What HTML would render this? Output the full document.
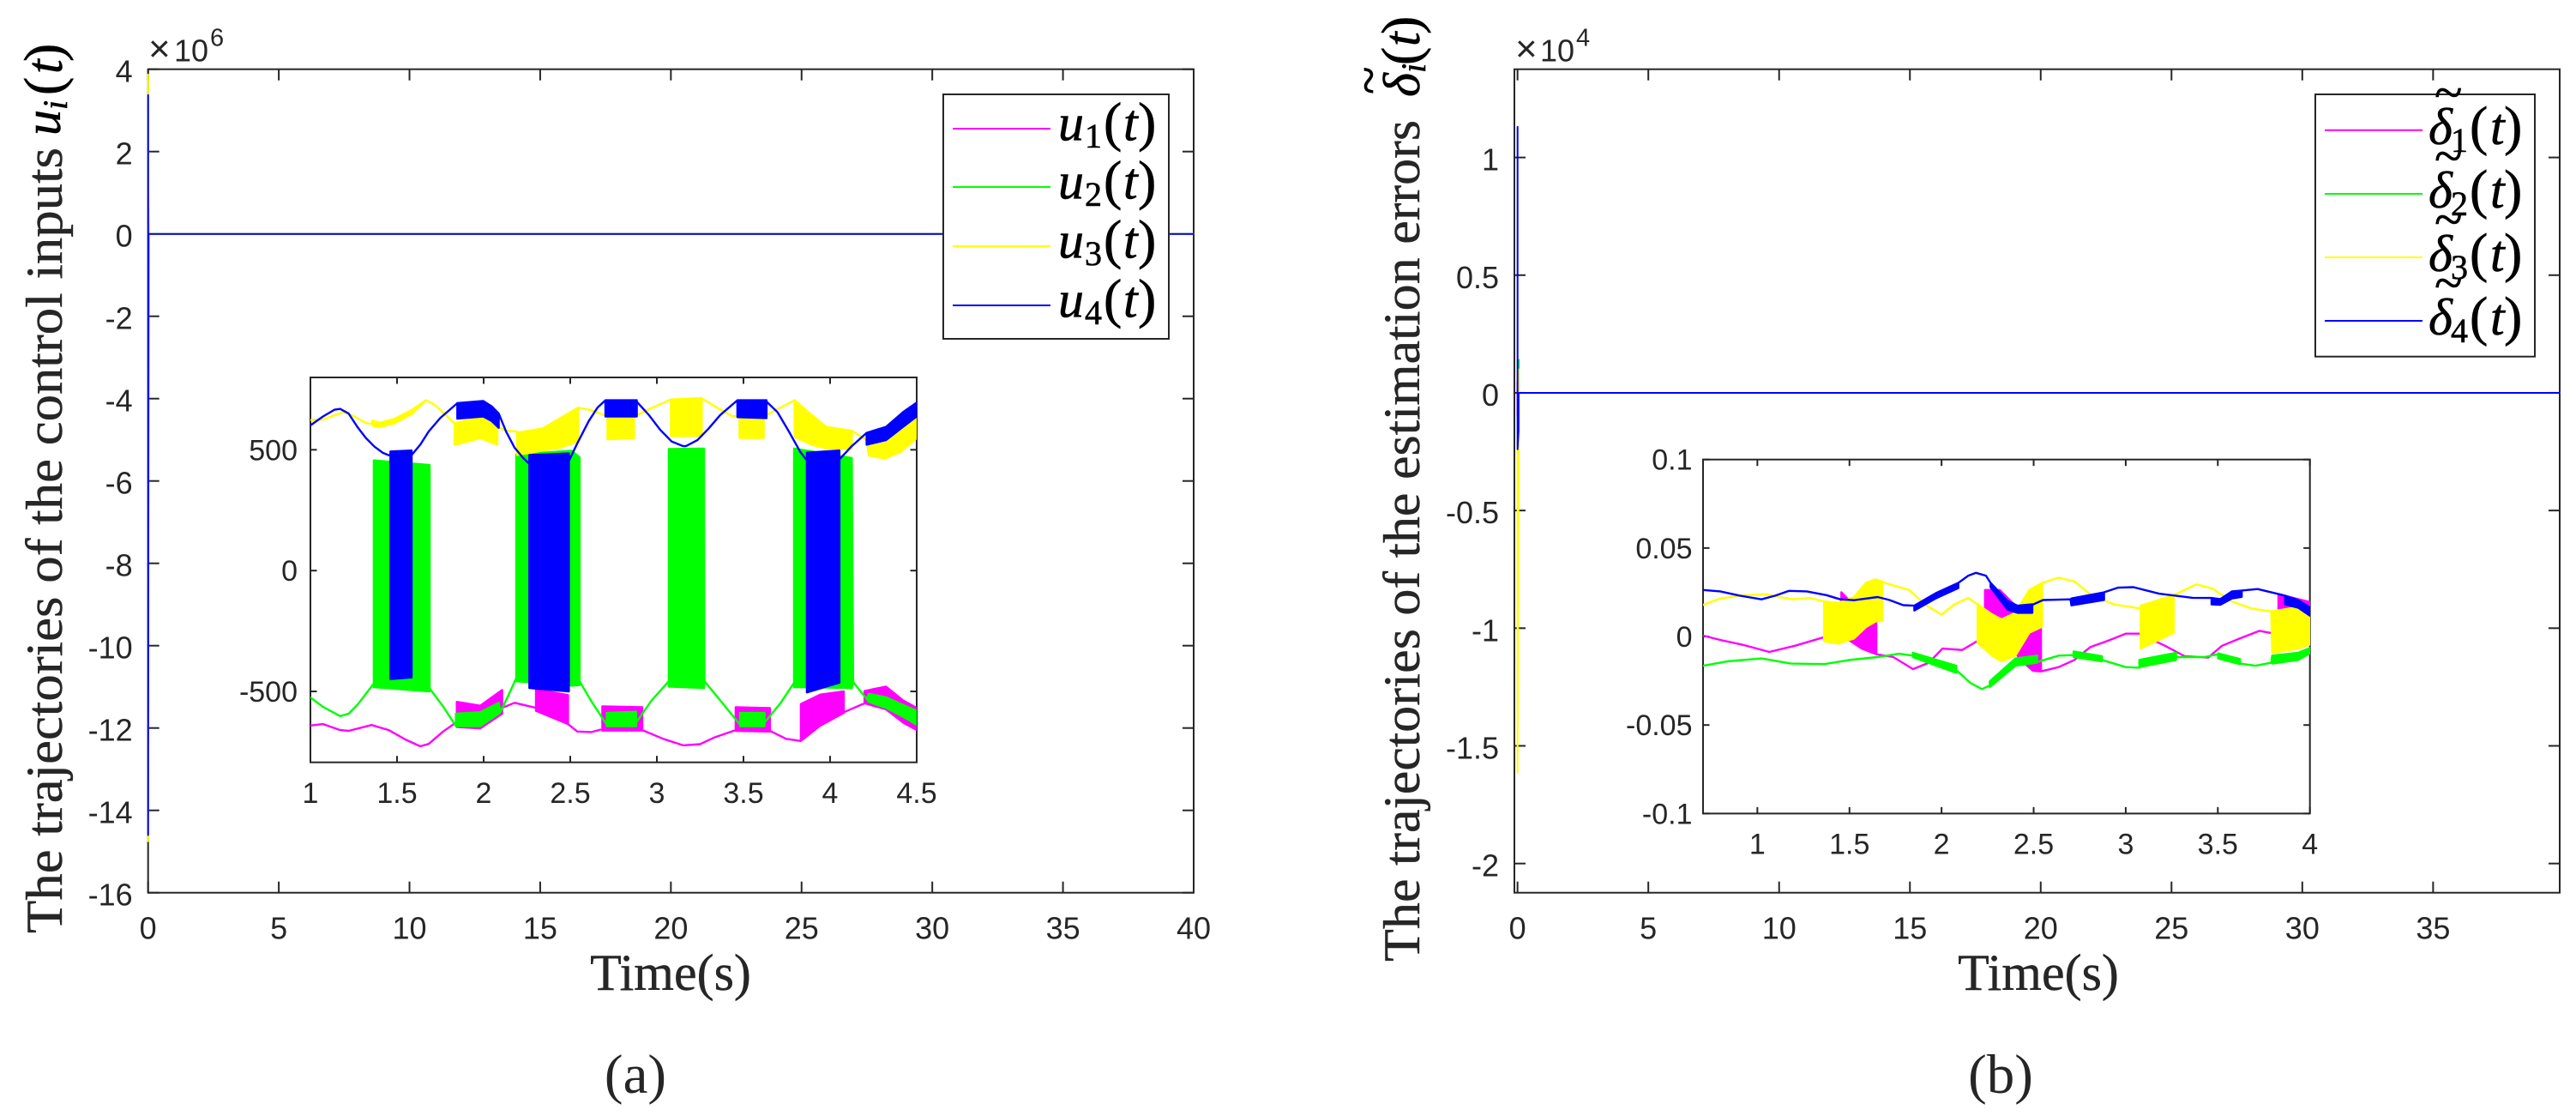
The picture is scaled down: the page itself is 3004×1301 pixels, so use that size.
<!DOCTYPE html>
<html lang="en">
<head>
<meta charset="utf-8">
<title>Control input and estimation error trajectories</title>
<style>
html,body{margin:0;padding:0;background:#fff;}
svg{display:block;}
text{font-family:"Liberation Sans",sans-serif;fill:#262626;}
.serif{font-family:"Liberation Serif",serif;}
.title{font-family:"Liberation Serif",serif;font-size:60px;fill:#262626;stroke:#262626;stroke-width:0.4px;}
.math{font-family:"Liberation Serif",serif;font-size:60px;fill:#000;stroke:#000;stroke-width:0.6px;}
.mi{font-style:italic;}
.sub{font-size:40px;}
.paren{font-size:64px;}
</style>
</head>
<body>
<svg id="chart" xmlns="http://www.w3.org/2000/svg" width="3004" height="1301" viewBox="0 0 3004 1301">
<rect x="0" y="0" width="3004" height="1301" fill="#fff"/>
<defs>
<clipPath id="clip-inset-a"><rect x="362" y="440" width="707" height="448.7"/></clipPath>
<clipPath id="clip-inset-b"><rect x="1986" y="535.7" width="708" height="413"/></clipPath>
</defs>
<g id="panel-a"></g>
<g id="panel-b"></g>

<g>
<g>
<text x="173" y="71.7" font-size="44">×</text>
<text x="203" y="71.7" font-size="36">10</text>
<text x="245" y="53.3" font-size="29">6</text>
</g>
<text class="title" x="782" y="1154" text-anchor="middle">Time(s)</text>
<g transform="translate(72,1088) rotate(-90)">
<text class="title" x="0" y="0" textLength="916" lengthAdjust="spacingAndGlyphs">The trajectories of the control inputs</text>
<text class="math mi" x="930" y="-2" fill="#000">u</text>
<text class="math mi sub" x="960" y="6">i</text>
<text class="math paren" x="977" y="0">(</text>
<text class="math mi" x="1002" y="0">t</text>
<text class="math paren" x="1016" y="0">)</text>
</g>
<text class="serif" x="741" y="1274" font-size="65" text-anchor="middle">(a)</text>
<g>
<rect x="1100" y="110" width="263" height="285" fill="#fff" stroke="#262626" stroke-width="2"/>
<g><line x1="1111" x2="1225" y1="150" y2="150" stroke="#ff00ff" stroke-width="2"/><text class="math mi" x="1234" y="163.5">u</text><text class="math sub" x="1265" y="172">1</text><text class="math paren" x="1287" y="163.5">(</text><text class="math mi" x="1310" y="163.5">t</text><text class="math paren" x="1327" y="163.5">)</text></g>
<g><line x1="1111" x2="1225" y1="218" y2="218" stroke="#00ff00" stroke-width="2"/><text class="math mi" x="1234" y="231.5">u</text><text class="math sub" x="1265" y="240">2</text><text class="math paren" x="1287" y="231.5">(</text><text class="math mi" x="1310" y="231.5">t</text><text class="math paren" x="1327" y="231.5">)</text></g>
<g><line x1="1111" x2="1225" y1="287" y2="287" stroke="#ffff00" stroke-width="2"/><text class="math mi" x="1234" y="300.5">u</text><text class="math sub" x="1265" y="309">3</text><text class="math paren" x="1287" y="300.5">(</text><text class="math mi" x="1310" y="300.5">t</text><text class="math paren" x="1327" y="300.5">)</text></g>
<g><line x1="1111" x2="1225" y1="356" y2="356" stroke="#0000ff" stroke-width="2"/><text class="math mi" x="1234" y="369.5">u</text><text class="math sub" x="1265" y="378">4</text><text class="math paren" x="1287" y="369.5">(</text><text class="math mi" x="1310" y="369.5">t</text><text class="math paren" x="1327" y="369.5">)</text></g>
</g>
</g>

<g>
<g>
<text x="1767" y="71.7" font-size="44">×</text>
<text x="1796" y="71.7" font-size="36">10</text>
<text x="1838" y="53.3" font-size="29">4</text>
</g>
<text class="title" x="2377" y="1154" text-anchor="middle">Time(s)</text>
<g transform="translate(1655,1121) rotate(-90)">
<text class="title" x="0" y="0" textLength="981" lengthAdjust="spacingAndGlyphs">The trajectories of the estimation errors</text>
<text class="math mi" x="1008" y="0">δ</text>
<text class="math" x="1011" y="-39" font-size="38">~</text>
<text class="math mi sub" x="1036" y="7">i</text>
<text class="math paren" x="1045" y="0">(</text>
<text class="math mi" x="1067" y="0">t</text>
<text class="math paren" x="1081" y="0">)</text>
</g>
<text class="serif" x="2333" y="1274" font-size="65" text-anchor="middle">(b)</text>
<g>
<rect x="2700" y="110" width="256" height="305.7" fill="#fff" stroke="#262626" stroke-width="2"/>
<g><line x1="2711" x2="2825" y1="151.7" y2="151.7" stroke="#ff00ff" stroke-width="2"/><text class="math mi" x="2832" y="168">δ</text><text class="math" x="2839" y="128" font-size="38">~</text><text class="math sub" x="2858" y="177">1</text><text class="math paren" x="2880" y="168">(</text><text class="math mi" x="2904" y="168">t</text><text class="math paren" x="2920" y="168">)</text></g>
<g><line x1="2711" x2="2825" y1="226" y2="226" stroke="#00ff00" stroke-width="2"/><text class="math mi" x="2832" y="242">δ</text><text class="math" x="2839" y="202" font-size="38">~</text><text class="math sub" x="2858" y="251">2</text><text class="math paren" x="2880" y="242">(</text><text class="math mi" x="2904" y="242">t</text><text class="math paren" x="2920" y="242">)</text></g>
<g><line x1="2711" x2="2825" y1="300" y2="300" stroke="#ffff00" stroke-width="2"/><text class="math mi" x="2832" y="316">δ</text><text class="math" x="2839" y="276" font-size="38">~</text><text class="math sub" x="2858" y="325">3</text><text class="math paren" x="2880" y="316">(</text><text class="math mi" x="2904" y="316">t</text><text class="math paren" x="2920" y="316">)</text></g>
<g><line x1="2711" x2="2825" y1="374" y2="374" stroke="#0000ff" stroke-width="2"/><text class="math mi" x="2832" y="390">δ</text><text class="math" x="2839" y="350" font-size="38">~</text><text class="math sub" x="2858" y="399">4</text><text class="math paren" x="2880" y="390">(</text><text class="math mi" x="2904" y="390">t</text><text class="math paren" x="2920" y="390">)</text></g>
</g>
</g>
</svg>

<script>
// Tick values
const mainAXTicks = [0,5,10,15,20,25,30,35,40];
const mainAYTicks = [4,2,0,-2,-4,-6,-8,-10,-12,-14,-16];
const mainBXTicks = [0,5,10,15,20,25,30,35];
const mainBYTicks = [1,0.5,0,-0.5,-1,-1.5,-2];
const insetAXTicks = [1,1.5,2,2.5,3,3.5,4,4.5];
const insetAYTicks = [500,0,-500];
const insetBXTicks = [1,1.5,2,2.5,3,3.5,4];
const insetBYTicks = [0.1,0.05,0,-0.05,-0.1];

// Main series: rows are [time, value] (y in units of 1e6 for a, 1e4 for b)
const mainU1 = [[0,-5],[0,2],[0.02,0],[40,0]];
const mainU2 = [[0,3],[0,-6],[0.02,0],[40,0]];
const mainU3 = [[0,3.87],[0,-14.75],[0.02,0],[40,0]];
const mainU4 = [[0,3.37],[0,-14.6],[0.02,0],[40,0]];
const mainD1 = [[0,0.05],[0,-0.1],[0.05,0],[39.84,0]];
const mainD2 = [[0.05,0.14],[0.05,0],[39.84,0]];
const mainD3 = [[0,-0.24],[0,-1.615],[0.05,0.1],[0.05,0],[39.84,0]];
const mainD4 = [[0,1.13],[0,-0.24],[0.04,-0.16],[0.04,0],[39.84,0]];

// Inset series: rows are [time, value] on smooth stretches, [time, high, low] on chattering bands
const insetU1 = [[1,-641],[1.073,-635],[1.172,-660],[1.221,-663],[1.353,-639],[1.452,-660],[1.551,-700],[1.634,-727],[1.683,-717],[1.766,-666],[1.84,-629],[1.845,-629],[1.845,-543,-647],[1.98,-559,-653],[2.107,-494,-592],[2.107,-568],[2.178,-547],[2.302,-568],[2.302,-491,-580],[2.487,-515,-635],[2.487,-635],[2.541,-666],[2.624,-668],[2.685,-656],[2.685,-562,-662],[2.916,-565,-662],[2.916,-660],[3.036,-696],[3.152,-723],[3.25,-718],[3.333,-690],[3.455,-660],[3.455,-565,-663],[3.653,-569,-666],[3.653,-663],[3.746,-696],[3.831,-705],[3.831,-552,-705],[3.944,-513,-641],[4.079,-500,-589],[4.079,-586],[4.199,-549],[4.199,-498,-549],[4.323,-480,-574],[4.422,-537,-629],[4.5,-568,-660]];
const insetU2 = [[1,-525],[1.073,-564],[1.172,-602],[1.221,-592],[1.271,-556],[1.366,-467],[1.366,456,-482],[1.688,437,-500],[1.688,-488],[1.766,-562],[1.84,-644],[1.84,-592,-644],[1.98,-586,-644],[2.087,-547,-592],[2.096,-586],[2.145,-513],[2.188,-445],[2.188,481,-458],[2.508,496,-476],[2.554,469,-474],[2.554,-458],[2.624,-543],[2.711,-638],[2.711,-589,-644],[2.88,-584,-644],[2.88,-629],[2.97,-537],[3.069,-458],[3.069,503,-480],[3.272,505,-486],[3.275,-458],[3.366,-537],[3.48,-638],[3.48,-589,-644],[3.622,-589,-644],[3.622,-629],[3.713,-549],[3.792,-464],[3.792,505,-482],[4.125,466,-486],[4.133,-461],[4.211,-531],[4.224,-510,-543],[4.323,-524,-568],[4.422,-556,-605],[4.5,-580,-638]];
const insetU3 = [[1,623],[1.073,625],[1.188,656],[1.254,638],[1.32,611],[1.358,606],[1.358,621,600],[1.403,612,594],[1.485,628,610],[1.584,664,648],[1.667,705],[1.716,687],[1.782,644],[1.832,609],[1.832,609,521],[1.98,635,548],[2.079,595,521],[2.079,595],[2.129,579],[2.193,576],[2.193,570,478],[2.343,589,497],[2.442,631,509],[2.545,674,534],[2.545,674],[2.624,664],[2.715,638],[2.715,638,543],[2.868,638,548],[2.868,638],[2.954,668],[3.081,708],[3.081,708,556],[3.259,714,558],[3.259,714],[3.333,680],[3.432,640],[3.477,638],[3.477,638,549],[3.617,638,549],[3.617,638],[3.713,674],[3.795,705],[3.795,705,553],[3.894,644,521],[3.977,595,505],[4.125,579,505],[4.125,579],[4.211,540],[4.224,527,476],[4.315,527,464],[4.406,576,491],[4.5,631,548]];
const insetU4 = [[1,601],[1.073,638],[1.139,666],[1.172,669],[1.221,650],[1.271,595],[1.32,549],[1.37,513],[1.419,487],[1.462,475],[1.462,493,-449],[1.584,497,-442],[1.584,478],[1.634,521],[1.683,576],[1.749,631],[1.848,693],[1.848,693,629],[1.997,702,638],[2.046,680,619],[2.087,650,591],[2.087,650],[2.129,576],[2.178,509],[2.228,466],[2.264,442],[2.264,478,-486],[2.492,485,-500],[2.492,454],[2.541,527],[2.607,619],[2.657,674],[2.703,705],[2.703,705,638],[2.884,705,638],[2.884,699],[2.954,644],[3.02,582],[3.086,534],[3.152,515],[3.168,515],[3.234,540],[3.3,589],[3.366,644],[3.465,705],[3.465,705,635],[3.633,705,631],[3.633,699],[3.696,656],[3.762,576],[3.828,491],[3.866,456],[3.866,488,-504],[4.054,497,-464],[4.054,460],[4.125,515],[4.211,570],[4.211,570,521],[4.323,595,540],[4.422,656,595],[4.5,695,638]];

const insetD1 = [[0.706,0.0005],[0.798,-0.0019],[0.926,-0.0048],[1.065,-0.0087],[1.204,-0.0052],[1.364,-0.0003],[1.456,0.0005],[1.456,0.025,-0.0011],[1.503,0.02,-0.0024],[1.567,0.02,-0.0068],[1.646,0.02,-0.01],[1.646,-0.01],[1.738,-0.0116],[1.845,-0.0184],[1.931,-0.0148],[2.005,-0.0068],[2.112,-0.0076],[2.192,-0.0027],[2.236,-0.0027],[2.236,0.0263,-0.006],[2.316,0.0263,-0.0124],[2.401,0.0174,-0.0092],[2.412,0.0166,-0.0108],[2.455,0.01,-0.0156],[2.497,0.0037,-0.0194],[2.54,0.0053,-0.0197],[2.54,-0.0197],[2.636,-0.0173],[2.722,-0.0132],[2.807,-0.006],[2.903,-0.0024],[3,0.0016],[3.074,0.0016],[3.213,-0.0052],[3.32,-0.0111],[3.448,-0.0119],[3.523,-0.0052],[3.62,-0.0011],[3.726,0.0032],[3.797,0.0018],[3.829,0.0018],[3.829,0.0239,-0.006],[4,0.0195,0]];
const insetD2 = [[0.706,-0.0165],[0.84,-0.014],[1.022,-0.0124],[1.183,-0.0153],[1.364,-0.0156],[1.503,-0.0132],[1.653,-0.0116],[1.77,-0.0097],[1.845,-0.0108],[1.845,-0.0092,-0.0116],[1.973,-0.0132,-0.0165],[2.08,-0.0165,-0.0205],[2.08,-0.0189],[2.155,-0.0261],[2.219,-0.0297],[2.262,-0.0277],[2.262,-0.0253,-0.0285],[2.401,-0.0124,-0.0165],[2.519,-0.0108,-0.0148],[2.519,-0.0144],[2.636,-0.0108],[2.717,-0.0105],[2.717,-0.0084,-0.0116],[2.871,-0.0111,-0.014],[2.871,-0.0132],[3,-0.0173],[3.074,-0.0176],[3.074,-0.0132,-0.0173],[3.273,-0.0092,-0.0132],[3.273,-0.0116],[3.427,-0.0116],[3.502,-0.01],[3.502,-0.0095,-0.0124],[3.62,-0.0127,-0.0156],[3.62,-0.0153],[3.705,-0.0165],[3.79,-0.0148],[3.795,-0.0108,-0.0153],[3.936,-0.0092,-0.0132],[4,-0.0065,-0.0095]];
const insetD3 = [[0.706,0.0179],[0.798,0.0215],[0.905,0.0231],[1.044,0.0239],[1.118,0.0223],[1.193,0.021],[1.289,0.0218],[1.362,0.0198],[1.362,0.0198,-0.0027],[1.439,0.0189,-0.004],[1.525,0.0223,-0.0011],[1.589,0.0303,0.0053],[1.642,0.0323,0.0085],[1.678,0.0311,0.0089],[1.678,0.0308],[1.824,0.0263],[1.909,0.0182],[1.999,0.0124],[2.07,0.0182],[2.145,0.0218],[2.196,0.0182],[2.196,0.0182,-0.0035],[2.273,0.0126,-0.0108],[2.326,0.0097,-0.014],[2.401,0.0134,-0.0108],[2.476,0.0263,0.0021],[2.546,0.0303,0.0056],[2.546,0.0303],[2.636,0.0332],[2.722,0.0311],[2.807,0.0239],[2.935,0.0182],[3.081,0.0158],[3.081,0.0174,-0.0068],[3.26,0.0234,0.0021],[3.26,0.0234],[3.384,0.0295],[3.47,0.0271],[3.577,0.0198],[3.684,0.0158],[3.79,0.0142],[3.795,0.0142,-0.0092],[3.936,0.0166,-0.0068],[4,0.013,-0.0045]];
const insetD4 = [[0.706,0.0263],[0.798,0.0255],[0.905,0.0231],[1.022,0.021],[1.097,0.0231],[1.172,0.0258],[1.268,0.0255],[1.375,0.0234],[1.45,0.021],[1.525,0.0205],[1.653,0.0223],[1.717,0.0206],[1.792,0.0177],[1.852,0.0174],[1.852,0.0174,0.0147],[1.973,0.0247,0.0218],[2.091,0.0303,0.0274],[2.091,0.0303],[2.145,0.0344],[2.187,0.036],[2.241,0.0344],[2.266,0.0303],[2.266,0.0303,0.0279],[2.358,0.0202,0.0153],[2.412,0.0174,0.0134],[2.493,0.0182,0.0134],[2.493,0.0179],[2.551,0.0206],[2.7,0.021],[2.705,0.0215,0.0176],[2.882,0.025,0.0206],[2.882,0.025],[2.957,0.0276],[3.042,0.0279],[3.181,0.0242],[3.363,0.0219],[3.466,0.0218],[3.466,0.0218,0.0182],[3.513,0.0211,0.0179],[3.577,0.0255,0.0215],[3.63,0.026,0.0224],[3.63,0.026],[3.716,0.0268],[3.833,0.0239],[3.865,0.0231],[3.865,0.0231,0.0182],[3.936,0.0206,0.0163],[4,0.0165,0.0118]];

const svgNS = 'http://www.w3.org/2000/svg';
const INK = '#262626';

function scale(d0, d1, p0, p1) {
  return function (d) { return p0 + (d - d0) * (p1 - p0) / (d1 - d0); };
}
function add(parent, tag) {
  const el = document.createElementNS(svgNS, tag);
  parent.appendChild(el);
  return el;
}
function label(v) { return String(v); }

function drawAxes(parent, name, box, sx, sy, xTicks, yTicks, tickLen, fontSize, xGap, yGap, yShift) {
  const g = add(parent, 'g');
  
  
  const frame = add(g, 'rect');
  
  
  frame.setAttribute('x', box.x0);
  frame.setAttribute('y', box.y0);
  frame.setAttribute('width', box.x1 - box.x0);
  frame.setAttribute('height', box.y1 - box.y0);
  frame.setAttribute('fill', '#fff');
  frame.setAttribute('stroke', INK);
  frame.setAttribute('stroke-width', '2');
  xTicks.forEach(function (v) {
    const x = sx(v);
    [[box.y0, box.y0 + tickLen], [box.y1, box.y1 - tickLen]].forEach(function (pair) {
      const t = add(g, 'line');
      
      
      t.setAttribute('x1', x); t.setAttribute('x2', x);
      t.setAttribute('y1', pair[0]); t.setAttribute('y2', pair[1]);
      t.setAttribute('stroke', INK); t.setAttribute('stroke-width', '2');
    });
    const tx = add(g, 'text');
    
    
    tx.setAttribute('x', x);
    tx.setAttribute('y', box.y1 + xGap);
    tx.setAttribute('text-anchor', 'middle');
    tx.setAttribute('font-size', fontSize);
    tx.textContent = label(v);
  });
  yTicks.forEach(function (v) {
    const y = sy(v);
    [[box.x0, box.x0 + tickLen], [box.x1, box.x1 - tickLen]].forEach(function (pair) {
      const t = add(g, 'line');
      
      
      t.setAttribute('x1', pair[0]); t.setAttribute('x2', pair[1]);
      t.setAttribute('y1', y); t.setAttribute('y2', y);
      t.setAttribute('stroke', INK); t.setAttribute('stroke-width', '2');
    });
    const ty = add(g, 'text');
    
    
    ty.setAttribute('x', box.x0 - yGap);
    ty.setAttribute('y', y + yShift);
    ty.setAttribute('text-anchor', 'end');
    ty.setAttribute('font-size', fontSize);
    ty.textContent = label(v);
  });
}

function drawSeries(parent, seriesName, rows, color, sx, sy, clipId, lineWidth) {
  const forward = rows.map(function (r) { return sx(r[0]).toFixed(1) + ',' + sy(r[1]).toFixed(1); });
  const back = rows.slice().reverse().map(function (r) {
    const low = r.length > 2 ? r[2] : r[1];
    return sx(r[0]).toFixed(1) + ',' + sy(low).toFixed(1);
  });
  const p = add(parent, 'polygon');
  
  
  p.setAttribute('points', forward.concat(back).join(' '));
  p.setAttribute('fill', color);
  p.setAttribute('stroke', color);
  p.setAttribute('stroke-width', lineWidth);
  p.setAttribute('stroke-linejoin', 'round');
  if (clipId) p.setAttribute('clip-path', 'url(#' + clipId + ')');
}

const COLORS = ['#ff00ff', '#00ff00', '#ffff00', '#0000ff'];

function drawPanel(parent, name, box, xDom, yDom, xTicks, yTicks, series, names, opts) {
  const sx = scale(xDom[0], xDom[1], box.x0, box.x1);
  const sy = scale(yDom[0], yDom[1], box.y1, box.y0);
  const g = add(parent, 'g');
  
  
  drawAxes(g, name, box, sx, sy, xTicks, yTicks, opts.tickLen, opts.fontSize, opts.xGap, opts.yGap, opts.yShift);
  series.forEach(function (rows, i) {
    drawSeries(g, names[i], rows, COLORS[i], sx, sy, opts.clip, opts.lineWidth);
  });
}

const panelA = document.getElementById('panel-a');
const panelB = document.getElementById('panel-b');

drawPanel(panelA, 'main-plot-a', {x0:172.7, x1:1392, y0:80.7, y1:1040.7}, [0,40], [-16,4],
  mainAXTicks, mainAYTicks, [mainU1, mainU2, mainU3, mainU4],
  ['main-series-u1','main-series-u2','main-series-u3','main-series-u4'],
  {tickLen:13, fontSize:36, xGap:54, yGap:18, yShift:15, lineWidth:2});

drawPanel(panelA, 'inset-plot-a', {x0:362, x1:1069, y0:440, y1:888.7}, [1,4.5], [-793.4,799.4],
  insetAXTicks, insetAYTicks, [insetU1, insetU2, insetU3, insetU4],
  ['inset-series-u1','inset-series-u2','inset-series-u3','inset-series-u4'],
  {tickLen:7.5, fontSize:34, xGap:47.3, yGap:15, yShift:12, clip:'clip-inset-a', lineWidth:2.4});

drawPanel(panelB, 'main-plot-b', {x0:1766, x1:2985, y0:80.7, y1:1040.7}, [-0.12,39.84], [-2.124,1.375],
  mainBXTicks, mainBYTicks, [mainD1, mainD2, mainD3, mainD4],
  ['main-series-delta1','main-series-delta2','main-series-delta3','main-series-delta4'],
  {tickLen:13, fontSize:36, xGap:54, yGap:18, yShift:15, lineWidth:2});

drawPanel(panelB, 'inset-plot-b', {x0:1986, x1:2693.7, y0:535.7, y1:948.4}, [0.705,4], [-0.1,0.1],
  insetBXTicks, insetBYTicks, [insetD1, insetD2, insetD3, insetD4],
  ['inset-series-delta1','inset-series-delta2','inset-series-delta3','inset-series-delta4'],
  {tickLen:7.5, fontSize:34, xGap:47, yGap:12.5, yShift:12, clip:'clip-inset-b', lineWidth:2.4});
</script>
</body>
</html>
